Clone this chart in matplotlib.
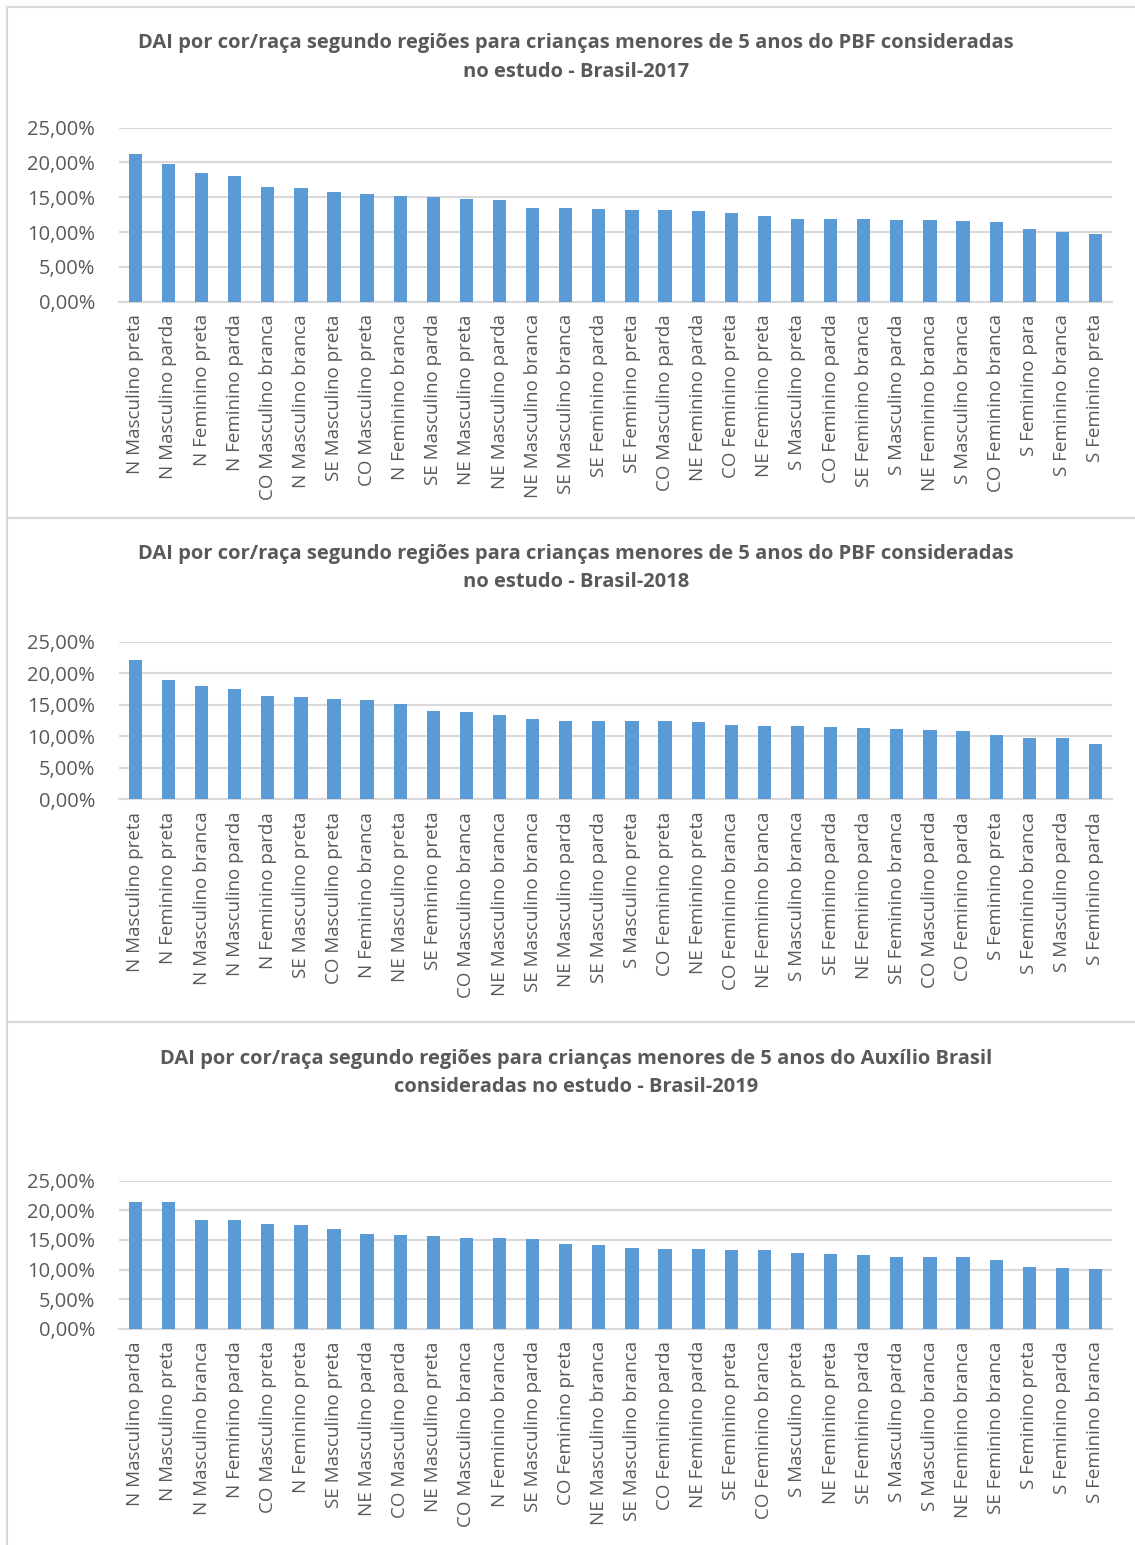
import matplotlib.pyplot as plt
from matplotlib.ticker import FuncFormatter, MultipleLocator
from matplotlib.lines import Line2D

plt.rcParams['font.family'] = ['Open Sans', 'DejaVu Sans']

W, H = 1135, 1545

labels_2017 = ["N Masculino preta", "N Masculino parda", "N Feminino preta", "N Feminino parda",
               "CO Masculino branca", "N Masculino branca", "SE Masculino preta", "CO Masculino preta",
               "N Feminino branca", "SE Masculino parda", "NE Masculino preta", "NE Masculino parda",
               "NE Masculino branca", "SE Masculino branca", "SE Feminino parda", "SE Feminino preta",
               "CO Masculino parda", "NE Feminino parda", "CO Feminino preta", "NE Feminino preta",
               "S Masculino preta", "CO Feminino parda", "SE Feminino branca", "S Masculino parda",
               "NE Feminino branca", "S Masculino branca", "CO Feminino branca", "S Feminino para",
               "S Feminino branca", "S Feminino preta"]
dai_2017 = [21.2, 19.8, 18.5, 18.1, 16.4, 16.3, 15.7, 15.5, 15.2, 15.0,
            14.7, 14.55, 13.4, 13.4, 13.35, 13.15, 13.1, 12.95, 12.7, 12.25,
            11.9, 11.9, 11.8, 11.7, 11.7, 11.6, 11.45, 10.5, 10.0, 9.7]

labels_2018 = ["N Masculino preta", "N Feminino preta", "N Masculino branca", "N Masculino parda",
               "N Feminino parda", "SE Masculino preta", "CO Masculino preta", "N Feminino branca",
               "NE Masculino preta", "SE Feminino preta", "CO Masculino branca", "NE Masculino branca",
               "SE Masculino branca", "NE Masculino parda", "SE Masculino parda", "S Masculino preta",
               "CO Feminino preta", "NE Feminino preta", "CO Feminino branca", "NE Feminino branca",
               "S Masculino branca", "SE Feminino parda", "NE Feminino parda", "SE Feminino branca",
               "CO Masculino parda", "CO Feminino parda", "S Feminino preta", "S Feminino branca",
               "S Masculino parda", "S Feminino parda"]
dai_2018 = [22.1, 18.95, 18.0, 17.55, 16.45, 16.2, 15.85, 15.75, 15.05, 14.05,
            13.85, 13.45, 12.75, 12.45, 12.45, 12.4, 12.4, 12.2, 11.8, 11.6,
            11.6, 11.45, 11.3, 11.1, 11.0, 10.85, 10.15, 9.8, 9.75, 8.85]

labels_2019 = ["N Masculino parda", "N Masculino preta", "N Masculino branca", "N Feminino parda",
               "CO Masculino preta", "N Feminino preta", "SE Masculino preta", "NE Masculino parda",
               "CO Masculino parda", "NE Masculino preta", "CO Masculino branca", "N Feminino branca",
               "SE Masculino parda", "CO Feminino preta", "NE Masculino branca", "SE Masculino branca",
               "CO Feminino parda", "NE Feminino parda", "SE Feminino preta", "CO Feminino branca",
               "S Masculino preta", "NE Feminino preta", "SE Feminino parda", "S Masculino parda",
               "S Masculino branca", "NE Feminino branca", "SE Feminino branca", "S Feminino preta",
               "S Feminino parda", "S Feminino branca"]
dai_2019 = [21.4, 21.4, 18.4, 18.4, 17.65, 17.45, 16.8, 16.0, 15.9, 15.7,
            15.3, 15.3, 15.15, 14.3, 14.2, 13.65, 13.45, 13.4, 13.35, 13.35,
            12.8, 12.6, 12.45, 12.1, 12.05, 12.05, 11.6, 10.4, 10.3, 10.15]

titles = [
    "DAI por cor/raça segundo regiões para crianças menores de 5 anos do PBF consideradas\nno estudo - Brasil-2017",
    "DAI por cor/raça segundo regiões para crianças menores de 5 anos do PBF consideradas\nno estudo - Brasil-2018",
    "DAI por cor/raça segundo regiões para crianças menores de 5 anos do Auxílio Brasil\nconsideradas no estudo - Brasil-2019",
]

BAR = '#5b9bd5'
GRID = '#d9d9d9'
TXT = '#595959'

fig = plt.figure(figsize=(W / 100, H / 100), dpi=100)


def fx(px):
    return px / W


def fy(py):
    return 1 - py / H


# plot areas in pixels: (top of 25% line, bottom axis)
areas = [(127.5, 301.7), (641.7, 799.3), (1180.7, 1328.7)]
title_y = [57.5, 568, 1073]
left_px, right_px = 118.8, 1112

pct = FuncFormatter(lambda v, p: f"{v:.2f}%".replace('.', ','))

for (top, bot), ty, title, labels, vals in zip(areas, title_y, titles,
                                              [labels_2017, labels_2018, labels_2019],
                                              [dai_2017, dai_2018, dai_2019]):
    ax = fig.add_axes([fx(left_px), fy(bot), fx(right_px - left_px), (bot - top) / H])
    x = range(len(vals))
    ax.bar(x, vals, width=0.4, color=BAR, zorder=3)
    ax.set_xlim(-0.5, len(vals) - 0.5)
    ax.set_ylim(0, 25)
    ax.yaxis.set_major_locator(MultipleLocator(5))
    ax.yaxis.set_major_formatter(pct)
    ax.grid(axis='y', color=GRID, linewidth=1.5, zorder=0)
    for s in ['top', 'right', 'left']:
        ax.spines[s].set_visible(False)
    ax.spines['bottom'].set_color(GRID)
    ax.spines['bottom'].set_linewidth(1.5)
    ax.set_xticks(list(x))
    ax.set_xticklabels(labels, rotation=90, fontsize=13.5, color=TXT)
    ax.tick_params(axis='x', length=0, pad=9)
    ax.tick_params(axis='y', length=0, pad=17, labelsize=14.5, labelcolor=TXT)
    fig.text(fx(576), fy(ty), title, ha='center', va='center', fontsize=14.5,
             fontweight='bold', color=TXT, linespacing=1.55)

# chart frames
for yy in [7, 518, 1022]:
    fig.add_artist(Line2D([fx(7), 1], [fy(yy), fy(yy)], color=GRID, linewidth=1.5))
fig.add_artist(Line2D([fx(7), fx(7)], [fy(7), 0], color=GRID, linewidth=1.5))

fig.savefig('out.png', dpi=100)
